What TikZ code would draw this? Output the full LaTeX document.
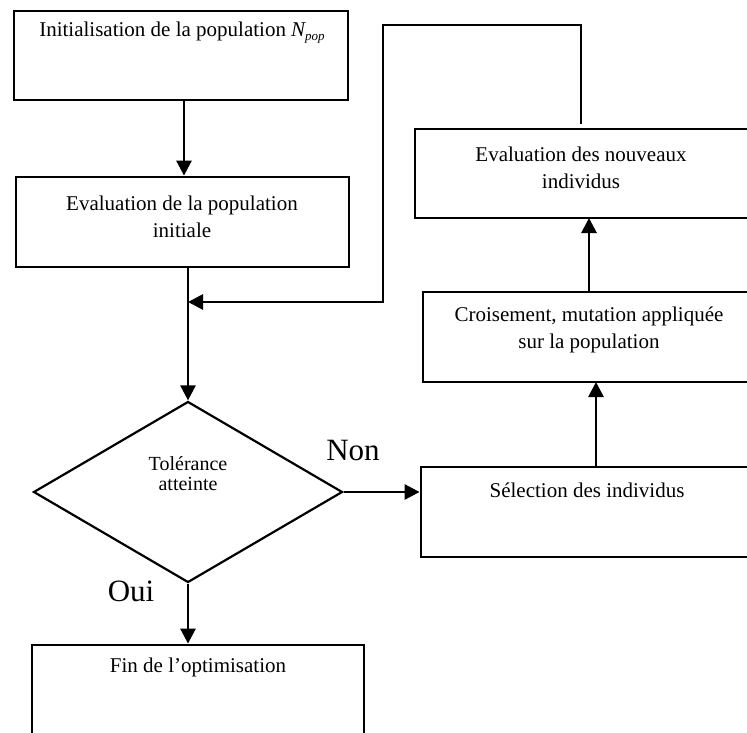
\documentclass[tikz,border=0pt]{standalone}
\usepackage{fontspec}
\setmainfont{Liberation Serif}
\usetikzlibrary{arrows.meta,shapes.geometric}
\begin{document}
\begin{tikzpicture}[x=1pt,y=-1pt,
  box/.style={draw, line width=2.8pt, rectangle, inner sep=0pt},
  txt/.style={inner sep=0pt, align=center, font=\fontsize{21}{27}\selectfont},
  lbl/.style={inner sep=0pt, font=\fontsize{31}{36}\selectfont},
  conn/.style={line width=2.8pt},
  arr/.style={line width=2.8pt, -{Triangle[length=15pt,width=15pt]}}]
\useasboundingbox (0,0) rectangle (747,733);
% boxes
\node[box, minimum width=334pt, minimum height=89pt] (b1) at (181,55.5) {};
\node[box, minimum width=333pt, minimum height=90pt] (b2) at (182.5,222) {};
\node[box, minimum width=334pt, minimum height=89pt] (ev) at (582,173.5) {};
\node[box, minimum width=332pt, minimum height=90pt] (cr) at (589,337) {};
\node[box, minimum width=332pt, minimum height=90pt] (se) at (587,512) {};
\node[box, minimum width=332pt, minimum height=100pt] (fin) at (198,695) {};
\node[draw, line width=2.2pt, diamond, inner sep=0pt, minimum width=309pt, minimum height=181pt] (dia) at (188,492) {};
% texts
\node[txt] (t1) at (182,33) {Initialisation de la population {\itshape N\raisebox{-0.4ex}{\fontsize{13}{13}\selectfont pop}}};
\node[txt] (t2) at (182,216.5) {Evaluation de la population\\initiale};
\node[txt] (t3) at (581,167.5) {Evaluation des nouveaux\\individus};
\node[txt] (t4) at (589,330) {Croisement, mutation appliquée\\sur la population};
\node[txt] (t5) at (587,490) {Sélection des individus};
\node[txt] (t6) at (198,667) {Fin de l’optimisation};
\node[txt, font=\fontsize{20}{20}\selectfont, align=center] (t7) at (188,474) {Tolérance\\atteinte};
\node[lbl] (non) at (353,450) {Non};
\node[lbl] (oui) at (131,591) {Oui};
% connector coordinates
\coordinate (lt) at (581,124);
\coordinate (c1) at (383,25);
\coordinate (m) at (188,302);
\coordinate (s1) at (596,467);
\coordinate (s2) at (596,382);
\coordinate (r1) at (589,292);
\coordinate (r2) at (589,218);
% connectors
\draw[arr] (b1.south -| 184,0) -- (b2.north -| 184,0);
\draw[arr] (b2.south -| dia.north) -- (dia.north);
\draw[arr] (lt) |- (c1) |- (m);
\draw[arr] (dia.east) -- (dia.east -| se.west);
\draw[arr] (s1) -- (s2);
\draw[arr] (r1) -- (r2);
\draw[arr] (dia.south) -- (fin.north -| dia.south);
\end{tikzpicture}
\end{document}
